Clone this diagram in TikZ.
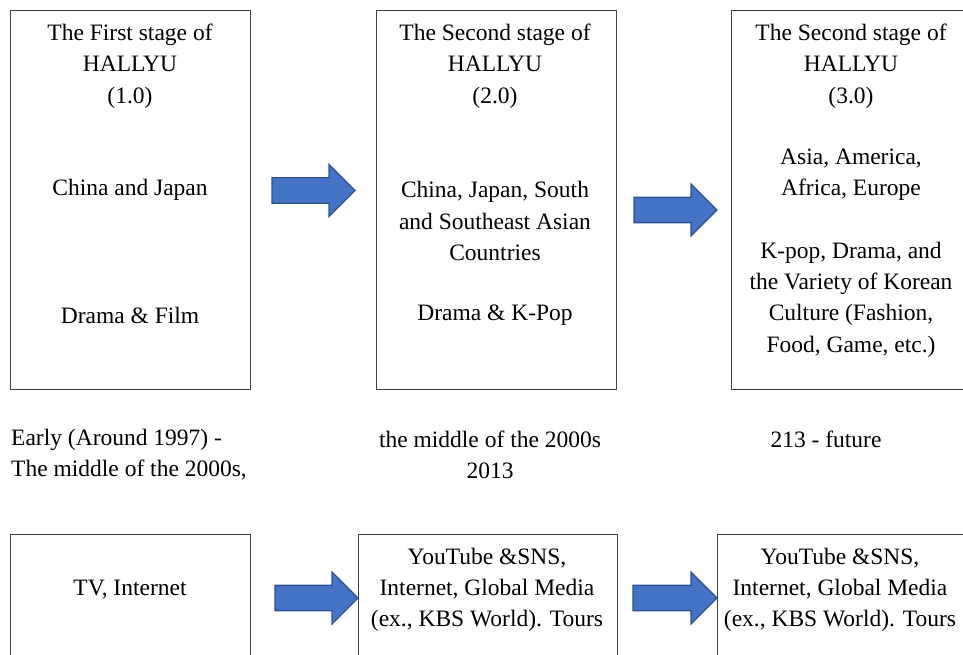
\documentclass[tikz,border=0pt]{standalone}
\usepackage{fontspec}
\setmainfont{Liberation Serif}
\definecolor{arrowfill}{HTML}{4472C4}
\definecolor{arrowline}{HTML}{2F528F}
\newcommand{\blockarrow}[5]{% name, x0, yc, xhead, xtip
  \coordinate (#1) at (#2,#3);
  \draw[bigarrow] (#2,#3-12.75) -- (#4,#3-12.75) -- (#4,#3-26) -- (#5,#3)
    -- (#4,#3+26) -- (#4,#3+12.75) -- (#2,#3+12.75) -- cycle;}
\begin{document}
\begin{tikzpicture}[x=1pt,y=-1pt,
  stagebox/.style={draw=black!75, line width=1pt, inner sep=0pt},
  txt/.style={font=\fontsize{23.5}{31.3}\selectfont, align=center, inner sep=0pt, yshift=-3pt},
  bigarrow/.style={fill=arrowfill, draw=arrowline, line width=1.1pt, line join=miter}]
\useasboundingbox (0,0) rectangle (963,654);
\clip (0,0) rectangle (963,654);
\fill[white] (0,0) rectangle (963,654);
% top boxes
\node[stagebox, anchor=north west, minimum width=240pt, minimum height=379pt] (t1) at (10,10) {};
\node[stagebox, anchor=north west, minimum width=240pt, minimum height=379pt] (t2) at (376,10) {};
\node[stagebox, anchor=north west, minimum width=240pt, minimum height=379pt] (t3) at (731,10) {};
% bottom boxes
\node[stagebox, anchor=north west, minimum width=240pt, minimum height=140pt] (m1) at (10,534) {};
\node[stagebox, anchor=north west, minimum width=259pt, minimum height=140pt] (m2) at (358,534) {};
\node[stagebox, anchor=north west, minimum width=259pt, minimum height=140pt] (m3) at (717,534) {};
% arrows
\blockarrow{a1}{272}{190.5}{329}{355}
\blockarrow{a2}{634}{210}{691}{717}
\blockarrow{a3}{275}{598}{332}{358}
\blockarrow{a4}{633}{598}{691}{717}
% texts box 1
\node[txt] (t1a) at (130,63) {The First stage of\\HALLYU\\(1.0)};
\node[txt] (t1b) at (130,187) {China and Japan};
\node[txt] (t1c) at (130,312) {Drama \& Film};
% box 2
\node[txt] (t2a) at (495,63) {The Second stage of\\HALLYU\\(2.0)};
\node[txt] (t2b) at (495,218) {China, Japan, South\\and Southeast Asian\\Countries};
\node[txt] (t2c) at (495,312) {Drama \& K-Pop};
% box 3
\node[txt] (t3a) at (851,63) {The Second stage of\\HALLYU\\(3.0)};
\node[txt] (t3b) at (851,171.5) {Asia, America,\\Africa, Europe};
\node[txt] (t3c) at (851,296.5) {K-pop, Drama, and\\the Variety of Korean\\Culture (Fashion,\\Food, Game, etc.)};
% periods
\node[txt, align=left, anchor=west] (p1) at (11,451.5) {Early (Around 1997) -\\The middle of the 2000s,};
\node[txt] (p2) at (490,451.5) {the middle of the 2000s\\2013};
\node[txt] (p3) at (826,436) {213 - future};
% media
\node[txt] (m1t) at (130,587) {TV, Internet};
\node[txt] (m2t) at (487,587) {YouTube \&SNS,\\Internet, Global Media\\(ex., KBS World). Tours};
\node[txt] (m3t) at (840,587) {YouTube \&SNS,\\Internet, Global Media\\(ex., KBS World). Tours};
\end{tikzpicture}
\end{document}
